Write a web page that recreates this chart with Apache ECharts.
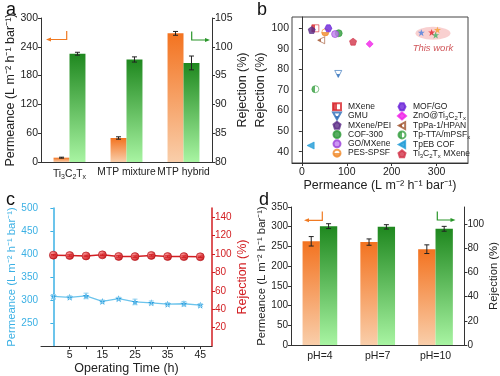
<!DOCTYPE html>
<html>
<head>
<meta charset="utf-8">
<script src="https://cdn.jsdelivr.net/npm/echarts@6/dist/echarts.min.js"></script>
<style>
  html, body { margin: 0; padding: 0; background: #fff; }
  #chart { width: 500px; height: 376px; }
</style>
</head>
<body>
<div id="chart"></div>
<script>
// panel a - membranes
const catA = ['Ti3C2Tx', 'MTP mixture', 'MTP hybrid']
const permA = [9, 50, 268]
const permAErr = [1, 2.5, 4]
const rejA = [98.8, 97.8, 97.2]
const rejAErr = [0.25, 0.45, 1.2]

// panel b - literature comparison
const litNames = ['MXene', 'GMU', 'MXene/PEI', 'COF-300', 'GO/MXene', 'PES-SPSF',
  'MOF/GO', 'ZnO@Ti3C2Tx', 'TpPa-1/HPAN', 'Tp-TTA/mPSFx', 'TpEB COF', 'Ti3C2Tx MXene']
const litPerm = [30, 81, 22, 82, 74, 52, 59, 151, 43, 30, 19.5, 114]
const litRej = [100, 77.8, 99.2, 97.6, 97.2, 98, 100, 92.4, 94.2, 70.4, 43, 93.5]
const workPerm = [266, 289, 302, 298]
const workRej = [97.9, 98, 99.2, 96.7]
const workZone = [292, 97.6]

// panel c - long-term operation
const timeC = [0, 5, 10, 15, 20, 25, 30, 35, 40, 45]
const permC = [308, 306, 309, 297, 303, 296, 294, 291, 292, 289]
const permCErr = [4, 3, 6, 3, 3, 6, 4, 3, 5, 3]
const rejC = [98.8, 98.4, 97.9, 99.1, 97.4, 97.2, 98.5, 97.3, 97.2, 97.0]
const rejCErr = [0.8, 0.8, 0.8, 0.8, 0.8, 0.8, 0.8, 0.8, 0.8, 0.8]

// panel d - pH stability
const catD = ['pH=4', 'pH=7', 'pH=10']
const permD = [263, 261, 243]
const permDErr = [12, 8, 11]
const rejD = [98.2, 97.6, 96.0]
const rejDErr = [2, 1.8, 2]

const FONT = 'Liberation Sans, Arial, sans-serif'
const ORANGE = '#f07a22'
const GREEN = '#2a962a'
const BLUE = '#3bb0e4'
const RED = '#d21e22'

const STAR = 'path://M5,0L6.2,3.5L9.8,3.5L6.9,5.7L8,9.5L5,7.2L2,9.5L3.1,5.7L0.2,3.5L3.8,3.5Z'
const PENT = 'path://M5,0L10,3.8L8.1,10L1.9,10L0,3.8Z'
const HEX = 'path://M2.5,0L7.5,0L10,5L7.5,10L2.5,10L0,5Z'
const TRI_DOWN = 'path://M0,0L10,0L5,9Z'
const TRI_LEFT = 'path://M0,5L9,0L9,10Z'

const orangeGrad = new echarts.graphic.LinearGradient(0, 0, 0, 1, [
  { offset: 0, color: '#f37320' }, { offset: 1, color: '#f9ceaa' }])
const greenGrad = new echarts.graphic.LinearGradient(0, 0, 0, 1, [
  { offset: 0, color: '#1f881f' }, { offset: 1, color: '#a8f4a2' }])

function half (color, vertical) {
  return new echarts.graphic.LinearGradient(0, 0, vertical ? 0 : 1, vertical ? 1 : 0, [
    { offset: 0, color: vertical ? '#fff' : color }, { offset: 0.5, color: vertical ? '#fff' : color },
    { offset: 0.5, color: vertical ? color : '#fff' }, { offset: 1, color: vertical ? color : '#fff' }])
}

// symbol + colour for each literature membrane
const litStyle = [
  { symbol: 'rect', color: half('#d8262c'), border: '#d8262c' },
  { symbol: TRI_DOWN, color: half('#2b6cb8', true), border: '#2b6cb8' },
  { symbol: PENT, color: '#5a2a86', border: '#5a2a86' },
  { symbol: 'circle', color: '#2e9a3a', border: '#2e9a3a' },
  { symbol: 'circle', color: '#c07cf0', border: '#9a40d8' },
  { symbol: 'circle', color: half('#f08a2a', true), border: '#f08a2a' },
  { symbol: HEX, color: '#6a22d8', border: '#6a22d8' },
  { symbol: 'diamond', color: '#f020e8', border: '#f020e8' },
  { symbol: TRI_LEFT, color: half('#a0522d'), border: '#a0522d' },
  { symbol: 'circle', color: half('#3aa043'), border: '#3aa043' },
  { symbol: TRI_LEFT, color: '#1e9ad6', border: '#1e9ad6' },
  { symbol: PENT, color: '#d2344a', border: '#d2344a' }
]
const workColors = ['#4a80e0', '#e0202a', '#f5a030', '#3cb060']

function sub (name) {
  return name.replace('Ti3C2Tx', 'Ti{s|3}C{s|2}T{s|x}').replace('mPSFx', 'mPSF{s|x}')
}

// error bars as a custom series
function errorBars (xi, yi, xs, vals, errs, offset, color) {
  return {
    type: 'custom',
    xAxisIndex: xi,
    yAxisIndex: yi,
    z: 10,
    silent: true,
    data: vals.map((v, i) => [xs[i], v - errs[i], v + errs[i]]),
    renderItem: function (params, api) {
      const lo = api.coord([api.value(0), api.value(1)])
      const hi = api.coord([api.value(0), api.value(2)])
      const x = lo[0] + api.size([1, 0])[0] * offset
      const st = { stroke: color, lineWidth: 1 }
      return {
        type: 'group',
        children: [
          { type: 'line', shape: { x1: x, y1: lo[1], x2: x, y2: hi[1] }, style: st },
          { type: 'line', shape: { x1: x - 2.5, y1: lo[1], x2: x + 2.5, y2: lo[1] }, style: st },
          { type: 'line', shape: { x1: x - 2.5, y1: hi[1], x2: x + 2.5, y2: hi[1] }, style: st }
        ]
      }
    }
  }
}

function arrow (pts, head, color) {
  return [
    { type: 'polyline', shape: { points: pts }, style: { stroke: color, lineWidth: 1.2, fill: null } },
    { type: 'polygon', shape: { points: head }, style: { fill: color } }
  ]
}

const axisText = { fontFamily: FONT, fontSize: 10.5, color: '#222' }
const nameText = { fontFamily: FONT, fontSize: 12.5, color: '#222' }
const nameSmall = { fontFamily: FONT, fontSize: 11.3, color: '#222' }
const blackLine = { lineStyle: { color: '#333', width: 1 } }
const catIdx = [0, 1, 2]

const myChart = echarts.init(document.getElementById('chart'))
const option = {
  animation: false,
  backgroundColor: '#fff',
  textStyle: { fontFamily: FONT },
  grid: [
    { left: 41, top: 18, width: 171, height: 144 },
    { left: 292, top: 17, width: 176, height: 146, show: true, borderColor: '#444', borderWidth: 1 },
    { left: 41, top: 208, width: 171, height: 139 },
    { left: 291, top: 207, width: 176, height: 138 }
  ],
  xAxis: [
    {
      gridIndex: 0,
      type: 'category',
      data: catA,
      axisLine: blackLine,
      axisTick: { show: false },
      axisLabel: Object.assign({}, axisText, {
        interval: 0,
        hideOverlap: false,
        fontSize: 10.3,
        margin: 5,
        formatter: v => sub(v),
        rich: { s: { fontSize: 7, padding: [7, 0, 0, 0], fontFamily: FONT, color: '#222' } }
      })
    },
    {
      gridIndex: 1,
      type: 'value',
      min: -22,
      max: 370,
      name: 'Permeance (L m⁻² h⁻¹ bar⁻¹)',
      nameLocation: 'middle',
      nameGap: 13,
      nameTextStyle: nameText,
      splitLine: { show: false },
      axisLine: blackLine,
      axisTick: { customValues: [0, 100, 200, 300], length: 3 },
      axisLabel: Object.assign({}, axisText, { customValues: [0, 100, 200, 300], margin: 4 })
    },
    {
      gridIndex: 2,
      type: 'value',
      min: -3.8,
      max: 48.6,
      name: 'Operating Time (h)',
      nameLocation: 'middle',
      nameGap: 11,
      nameTextStyle: nameText,
      splitLine: { show: false },
      axisLine: blackLine,
      axisTick: { customValues: [5, 10, 15, 20, 25, 30, 35, 40, 45], length: 3 },
      axisLabel: Object.assign({}, axisText, { customValues: [5, 15, 25, 35, 45], margin: 4 })
    },
    {
      gridIndex: 3,
      type: 'category',
      data: catD,
      axisLine: blackLine,
      axisTick: { show: false },
      axisLabel: Object.assign({}, axisText, { margin: 6 })
    }
  ],
  yAxis: [
    {
      gridIndex: 0,
      type: 'value',
      min: 0,
      max: 300,
      interval: 60,
      name: 'Permeance (L m⁻² h⁻¹ bar⁻¹)',
      nameLocation: 'middle',
      nameGap: 23,
      nameTextStyle: nameText,
      splitLine: { show: false },
      axisLine: { show: true, lineStyle: { color: '#333' } },
      axisTick: { show: true, length: 3 },
      axisLabel: Object.assign({}, axisText, { margin: 3 })
    },
    {
      gridIndex: 0,
      type: 'value',
      position: 'right',
      min: 80,
      max: 105,
      interval: 5,
      name: 'Rejection (%)',
      nameLocation: 'middle',
      nameGap: 22,
      nameTextStyle: nameText,
      splitLine: { show: false },
      axisLine: { show: true, lineStyle: { color: '#333' } },
      axisTick: { show: true, length: 3 },
      axisLabel: Object.assign({}, axisText, { margin: 3 })
    },
    {
      gridIndex: 1,
      type: 'value',
      min: 34.5,
      max: 105.5,
      name: 'Rejection (%)',
      nameLocation: 'middle',
      nameGap: 25,
      nameTextStyle: nameText,
      splitLine: { show: false },
      axisLine: { show: true, lineStyle: { color: '#333' } },
      axisTick: { show: true, length: 3, customValues: [40, 50, 60, 70, 80, 90, 100] },
      axisLabel: Object.assign({}, axisText, { margin: 3, customValues: [40, 50, 60, 70, 80, 90, 100] })
    },
    {
      gridIndex: 2,
      type: 'value',
      min: 200,
      max: 500,
      interval: 50,
      name: 'Permeance (L m⁻² h⁻¹ bar⁻¹)',
      nameLocation: 'middle',
      nameGap: 23,
      nameTextStyle: Object.assign({}, nameSmall, { color: BLUE }),
      splitLine: { show: false },
      axisLine: { show: true, lineStyle: { color: BLUE, width: 1.5 } },
      axisTick: { show: true, length: 3 },
      axisLabel: Object.assign({}, axisText, { color: BLUE, fontSize: 10, margin: 3, showMinLabel: false })
    },
    {
      gridIndex: 2,
      type: 'value',
      position: 'right',
      min: 0,
      max: 150,
      interval: 20,
      name: 'Rejection (%)',
      nameLocation: 'middle',
      nameGap: 23,
      nameTextStyle: Object.assign({}, nameText, { color: RED }),
      splitLine: { show: false },
      axisLine: { show: true, lineStyle: { color: RED, width: 1.5 } },
      axisTick: { show: true, length: 3 },
      axisLabel: Object.assign({}, axisText, { color: RED, fontSize: 10, margin: 3, showMinLabel: false, showMaxLabel: false })
    },
    {
      gridIndex: 3,
      type: 'value',
      min: 0,
      max: 350,
      interval: 50,
      name: 'Permeance (L m⁻² h⁻¹ bar⁻¹)',
      nameLocation: 'middle',
      nameGap: 21,
      nameTextStyle: nameSmall,
      splitLine: { show: false },
      axisLine: { show: true, lineStyle: { color: '#333' } },
      axisTick: { show: true, length: 3 },
      axisLabel: Object.assign({}, axisText, { fontSize: 10, margin: 3 })
    },
    {
      gridIndex: 3,
      type: 'value',
      position: 'right',
      min: 0,
      max: 114,
      interval: 20,
      name: 'Rejection (%)',
      nameLocation: 'middle',
      nameGap: 17,
      nameTextStyle: nameSmall,
      splitLine: { show: false },
      axisLine: { show: true, lineStyle: { color: '#333' } },
      axisTick: { show: true, length: 3 },
      axisLabel: Object.assign({}, axisText, { fontSize: 10, margin: 3, showMaxLabel: false })
    }
  ],
  legend: [
    {
      data: litNames.slice(0, 6),
      left: 332,
      top: 102,
      orient: 'vertical',
      itemWidth: 8,
      itemHeight: 7,
      itemGap: 0,
      padding: 0,
      formatter: n => sub(n),
      textStyle: { fontFamily: FONT, fontSize: 8.5, lineHeight: 9.3, color: '#222', padding: [0, 0, 0, 2] }
    },
    {
      data: litNames.slice(6),
      left: 397,
      top: 102,
      orient: 'vertical',
      itemWidth: 8,
      itemHeight: 7,
      itemGap: 0,
      padding: 0,
      formatter: n => sub(n),
      textStyle: {
        fontFamily: FONT, fontSize: 8.5, lineHeight: 9.3, color: '#222', padding: [0, 0, 0, 2],
        rich: { s: { fontSize: 6, padding: [4, 0, 0, 0], fontFamily: FONT, color: '#222' } }
      }
    }
  ],
  series: [
    // a
    {
      name: 'permA',
      type: 'bar',
      xAxisIndex: 0,
      yAxisIndex: 0,
      barWidth: '28%',
      barGap: 0,
      itemStyle: { color: orangeGrad },
      data: permA
    },
    {
      name: 'rejA',
      type: 'bar',
      xAxisIndex: 0,
      yAxisIndex: 1,
      barWidth: '28%',
      barGap: 0,
      itemStyle: { color: greenGrad },
      data: rejA
    },
    errorBars(0, 0, catIdx, permA, permAErr, -0.14, '#222'),
    errorBars(0, 1, catIdx, rejA, rejAErr, 0.14, '#222'),
    // b
    {
      name: 'zone',
      type: 'scatter',
      xAxisIndex: 1,
      yAxisIndex: 2,
      symbol: 'circle',
      symbolSize: [35, 13],
      z: 1,
      itemStyle: { color: '#f8c4c4' },
      label: {
        show: true,
        position: 'bottom',
        distance: 4,
        formatter: 'This work',
        color: '#c42a30',
        fontStyle: 'italic',
        fontFamily: FONT,
        fontSize: 9.5
      },
      data: [workZone]
    },
    ...litNames.map((n, i) => ({
      name: n,
      type: 'scatter',
      xAxisIndex: 1,
      yAxisIndex: 2,
      symbol: litStyle[i].symbol,
      symbolSize: 7,
      itemStyle: { color: litStyle[i].color, borderColor: litStyle[i].border, borderWidth: 0.8 },
      data: [[litPerm[i], litRej[i]]]
    })),
    {
      name: 'work',
      type: 'scatter',
      xAxisIndex: 1,
      yAxisIndex: 2,
      symbol: STAR,
      symbolSize: 7,
      z: 5,
      itemStyle: { color: p => workColors[p.dataIndex] },
      data: workPerm.map((v, i) => [v, workRej[i]])
    },
    // c
    {
      name: 'permC',
      type: 'line',
      xAxisIndex: 2,
      yAxisIndex: 3,
      symbol: STAR,
      symbolSize: 7,
      lineStyle: { color: '#6cc4ec', width: 1.3 },
      itemStyle: { color: '#2a9fe0' },
      data: timeC.map((t, i) => [t, permC[i]])
    },
    errorBars(2, 3, timeC, permC, permCErr, 0, '#8fd0f0'),
    {
      name: 'rejC',
      type: 'line',
      xAxisIndex: 2,
      yAxisIndex: 4,
      symbol: 'circle',
      symbolSize: 8,
      lineStyle: { color: RED, width: 1.5 },
      itemStyle: {
        color: new echarts.graphic.RadialGradient(0.35, 0.35, 0.7, [
          { offset: 0, color: '#ffa0a0' }, { offset: 1, color: '#c8141a' }]),
        borderColor: '#b01016',
        borderWidth: 0.6
      },
      data: timeC.map((t, i) => [t, rejC[i]])
    },
    errorBars(2, 4, timeC, rejC, rejCErr, 0, RED),
    // d
    {
      name: 'permD',
      type: 'bar',
      xAxisIndex: 3,
      yAxisIndex: 5,
      barWidth: '30%',
      barGap: 0,
      itemStyle: { color: orangeGrad },
      data: permD
    },
    {
      name: 'rejD',
      type: 'bar',
      xAxisIndex: 3,
      yAxisIndex: 6,
      barWidth: '30%',
      barGap: 0,
      itemStyle: { color: greenGrad },
      data: rejD
    },
    errorBars(3, 5, catIdx, permD, permDErr, -0.15, '#222'),
    errorBars(3, 6, catIdx, rejD, rejDErr, 0.15, '#222')
  ],
  graphic: [
    { type: 'text', left: 6, top: 1, style: { text: 'a', font: '18px ' + FONT, fill: '#111' } },
    { type: 'text', left: 257, top: 1, style: { text: 'b', font: '18px ' + FONT, fill: '#111' } },
    { type: 'text', left: 6, top: 191, style: { text: 'c', font: '18px ' + FONT, fill: '#111' } },
    { type: 'text', left: 259, top: 191, style: { text: 'd', font: '18px ' + FONT, fill: '#111' } },
    ...arrow([[66.7, 31], [66.7, 39.5], [50, 39.5]], [[46, 39.5], [51, 37.5], [51, 41.5]], ORANGE),
    ...arrow([[191.7, 31.5], [191.7, 40], [206, 40]], [[210, 40], [205, 38], [205, 42]], GREEN),
    ...arrow([[322.3, 211.5], [322.3, 220.3], [308, 220.3]], [[304, 220.3], [309, 218.3], [309, 222.3]], ORANGE),
    ...arrow([[437.3, 211.5], [437.3, 220], [451.5, 220]], [[455.5, 220], [450.5, 218], [450.5, 222]], GREEN)
  ]
}
myChart.setOption(option)
</script>
</body>
</html>
